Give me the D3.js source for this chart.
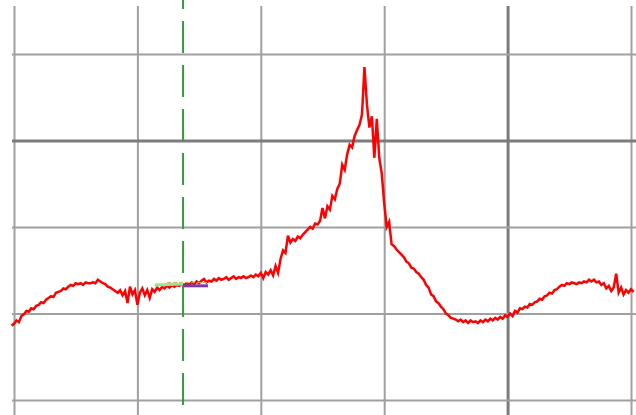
<!DOCTYPE html>
<html>
<head>
<meta charset="utf-8">
<script src="https://cdn.jsdelivr.net/npm/d3@7"></script>
<style>
  html, body { margin: 0; padding: 0; background: #fff; }
  svg { display: block; }
</style>
</head>
<body>
<svg id="chart" width="636" height="415"></svg>
<script>
// Sample index of the first value in the trace (one step before the left grid line)
const traceStart = -1;

// Trace samples, one per time step, in grid divisions above the bottom grid line
const traceValues = [
  0.86, 0.88, 0.92, 0.90, 0.97, 0.99, 1.03, 1.02, 1.06, 1.05, 1.09,
  1.10, 1.13, 1.12, 1.16, 1.18, 1.20, 1.19, 1.24, 1.25, 1.26,
  1.29, 1.28, 1.31, 1.33, 1.32, 1.35, 1.34, 1.35, 1.33, 1.36,
  1.35, 1.35, 1.36, 1.35, 1.39, 1.37, 1.35, 1.34, 1.31, 1.30,
  1.28, 1.26, 1.24, 1.27, 1.21, 1.26, 1.12, 1.31, 1.22, 1.27,
  1.10, 1.24, 1.29, 1.21, 1.27, 1.18, 1.28, 1.25, 1.30, 1.27,
  1.31, 1.29, 1.32, 1.30, 1.33, 1.31, 1.33, 1.32, 1.34, 1.33,
  1.35, 1.33, 1.36, 1.34, 1.37, 1.35, 1.38, 1.40, 1.36, 1.38,
  1.37, 1.40, 1.38, 1.41, 1.39, 1.40, 1.42, 1.39, 1.41, 1.43,
  1.40, 1.42, 1.41, 1.43, 1.41, 1.42, 1.44, 1.42, 1.45, 1.43,
  1.47, 1.41, 1.48, 1.45, 1.50, 1.44, 1.55, 1.47, 1.63, 1.73,
  1.70, 1.90, 1.82, 1.86, 1.84, 1.89, 1.87, 1.91, 1.94, 1.97,
  2.00, 1.98, 2.04, 2.03, 2.07, 2.22, 2.10, 2.24, 2.20, 2.36,
  2.32, 2.44, 2.50, 2.72, 2.66, 2.84, 2.95, 2.92, 3.05, 3.12,
  3.18, 3.30, 3.85, 3.42, 3.15, 3.28, 2.80, 3.25, 2.80, 2.62,
  2.28, 2.00, 2.06, 1.80, 1.78, 1.74, 1.71, 1.68, 1.65, 1.60,
  1.58, 1.53, 1.52, 1.48, 1.46, 1.42, 1.39, 1.33, 1.30, 1.22,
  1.20, 1.14, 1.12, 1.08, 1.05, 1.00, 0.98, 0.95, 0.94, 0.93,
  0.91, 0.93, 0.90, 0.92, 0.89, 0.92, 0.90, 0.91, 0.89, 0.92,
  0.90, 0.93, 0.91, 0.94, 0.92, 0.95, 0.93, 0.96, 0.94, 0.98,
  0.96, 1.00, 0.97, 1.03, 1.01, 1.06, 1.05, 1.08, 1.07, 1.11,
  1.10, 1.13, 1.14, 1.17, 1.16, 1.20, 1.21, 1.24, 1.23, 1.27,
  1.28, 1.31, 1.33, 1.32, 1.35, 1.34, 1.36, 1.35, 1.34, 1.36,
  1.35, 1.37, 1.36, 1.39, 1.37, 1.39, 1.36, 1.37, 1.33, 1.35,
  1.29, 1.32, 1.26, 1.30, 1.46, 1.24, 1.30, 1.22, 1.27, 1.24,
  1.28, 1.25
];

// Short reference segments laid over the trace near the marker
const markerGreen  = [[57, 1.33], [68.5, 1.34]];
const markerOrange = [[62, 1.36], [78.5, 1.36]];
const markerPurple = [[68.5, 1.32], [78.6, 1.32]];

// Cursor position (time step)
const cursorT = 68.5;

// Grid divisions
const xGrid = [0, 50, 100, 150, 200, 250];
const yGrid = [0, 1, 2, 3, 4];
const xMajor = 200;
const yMajor = 3;

const svg = d3.select("#chart");
const plot = { left: 12, right: 636, top: 6, bottom: 415 };

const x = d3.scaleLinear().domain([0, 250]).range([14, 631]);
const y = d3.scaleLinear().domain([0, 4]).range([400, 54]);

// Vertical grid lines
const gx = svg.append("g")
  .attr("transform", `translate(0,${plot.bottom})`)
  .call(d3.axisBottom(x).tickValues(xGrid).tickSize(plot.bottom - plot.top).tickFormat(""));
gx.select(".domain").remove();
gx.selectAll(".tick line")
  .attr("y2", -(plot.bottom - plot.top))
  .attr("stroke", d => d === xMajor ? "#7c7c7c" : "#a0a0a0")
  .attr("stroke-width", d => d === xMajor ? 3 : 2);

// Horizontal grid lines
const gy = svg.append("g")
  .attr("transform", `translate(${plot.left},0)`)
  .call(d3.axisLeft(y).tickValues(yGrid).tickSize(0).tickFormat(""));
gy.select(".domain").remove();
gy.selectAll(".tick line")
  .attr("x1", 0)
  .attr("x2", plot.right - plot.left)
  .attr("stroke", d => d === yMajor ? "#7c7c7c" : "#a0a0a0")
  .attr("stroke-width", d => d === yMajor ? 3 : 2);

// Dashed cursor
svg.append("line")
  .attr("x1", x(cursorT)).attr("x2", x(cursorT))
  .attr("y1", 0).attr("y2", plot.bottom)
  .attr("stroke", "#3a9a3a")
  .attr("stroke-width", 2)
  .attr("stroke-dasharray", "32,12")
  .attr("stroke-dashoffset", 23);

svg.append("clipPath").attr("id", "clip")
  .append("rect")
  .attr("x", plot.left - 2).attr("y", plot.top)
  .attr("width", plot.right - plot.left + 2).attr("height", plot.bottom - plot.top);

const line = d3.line().x(d => x(d[0])).y(d => y(d[1]));

const trace = traceValues.map((v, i) => [traceStart + i, v]);

svg.append("path")
  .datum(trace)
  .attr("clip-path", "url(#clip)")
  .attr("fill", "none")
  .attr("stroke", "#ff0000")
  .attr("stroke-width", 2.5)
  .attr("stroke-linejoin", "miter")
  .attr("d", line);

svg.append("path").datum(markerOrange)
  .attr("fill", "none").attr("stroke", "#e8a040").attr("stroke-width", 1)
  .attr("stroke-dasharray", "4,2").attr("d", line);
svg.append("path").datum(markerGreen)
  .attr("fill", "none").attr("stroke", "#90e890").attr("stroke-width", 3).attr("d", line);
svg.append("path").datum(markerPurple)
  .attr("fill", "none").attr("stroke", "#7a3aa8").attr("stroke-width", 3).attr("d", line);
</script>
</body>
</html>
